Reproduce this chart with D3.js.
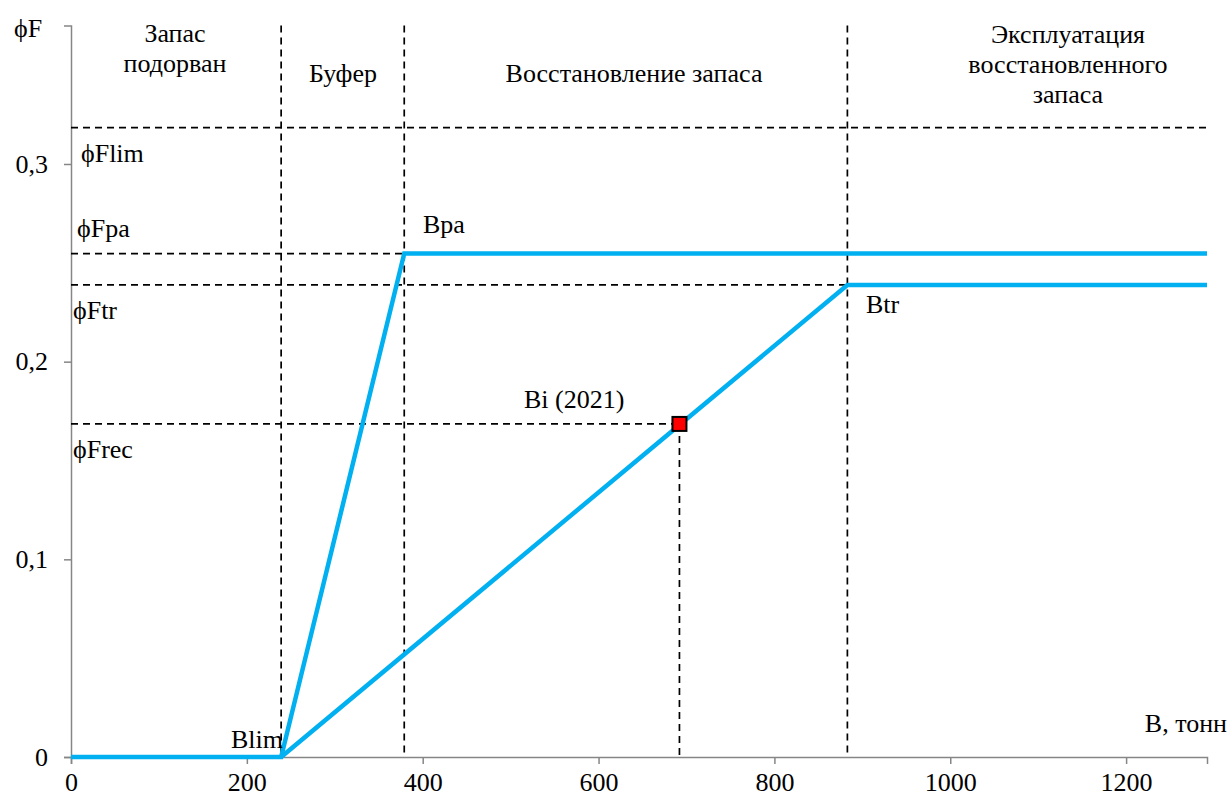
<!DOCTYPE html>
<html><head><meta charset="utf-8">
<script src="https://cdn.jsdelivr.net/npm/d3@7"></script>
<style>body{margin:0;background:#fff}svg{display:block}</style>
</head><body><svg id="c" width="1230" height="798"></svg>
<script>
// ---- data ----
const xTicks = [0, 200, 400, 600, 800, 1000, 1200];
const yTicks = [0, 0.1, 0.2, 0.3];
const xMax = 1292, yMax = 0.37;
// reference points
const Blim = 239, Bpa = 379, Btr = 883, Bi = 692;
const Flim = 0.3184, Fpa = 0.2547, Ftr = 0.2388, Frec = 0.1685;
// HCR lines
const paX = [0, 239, 379, 1292];
const paY = [0, 0, 0.2547, 0.2547];
const trX = [239, 883, 1292];
const trY = [0, 0.2388, 0.2388];
// point
const pointX = [692], pointY = [0.1685];
const zoneLabels = [
  {lines: ["Запас", "подорван"], x: 175, y0: 42},
  {lines: ["Буфер"], x: 343, y0: 82},
  {lines: ["Восстановление запаса"], x: 634, y0: 82},
  {lines: ["Эксплуатация", "восстановленного", "запаса"], x: 1068, y0: 43}
];

const FONT = '"Liberation Serif", "Times New Roman", serif';
const svg = d3.select("#c");
const x = d3.scaleLinear().domain([0, xMax]).range([71, 1207]);
const y = d3.scaleLinear().domain([0, yMax]).range([757, 757 - yMax * 1976.7]);
const fs = 26;

// axes
const axisCol = "#868686";
const gx = svg.append("g").attr("transform", `translate(0,${y(0)})`)
  .call(d3.axisBottom(x).tickValues(xTicks).tickSize(7).tickPadding(9).tickFormat(d3.format("d")));
const gy = svg.append("g").attr("transform", `translate(${x(0)},0)`)
  .call(d3.axisLeft(y).tickValues(yTicks).tickSize(7).tickPadding(16).tickFormat(d => d === 0 ? "0" : String(d).replace(".", ",")));
[gx, gy].forEach(g => {
  g.select(".domain").attr("stroke", axisCol).attr("stroke-width", 1.5);
  g.selectAll(".tick line").attr("stroke", axisCol).attr("stroke-width", 1.5);
  g.selectAll(".tick text").attr("font-size", fs).style("font-family", FONT).attr("fill", "#000");
});

// dashed reference lines
const dash = "7,5";
const dl = svg.append("g").attr("stroke", "#000").attr("stroke-width", 1.7).attr("stroke-dasharray", dash).attr("fill", "none");
[Blim, Bpa, Btr].forEach(v => dl.append("line").attr("x1", x(v)).attr("x2", x(v)).attr("y1", y(yMax)).attr("y2", y(0)));
dl.append("line").attr("x1", x(Bi)).attr("x2", x(Bi)).attr("y1", y(Frec)).attr("y2", y(0));
dl.append("line").attr("x1", x(0)).attr("x2", x(xMax)).attr("y1", y(Flim)).attr("y2", y(Flim));
dl.append("line").attr("x1", x(0)).attr("x2", x(Bpa)).attr("y1", y(Fpa)).attr("y2", y(Fpa));
dl.append("line").attr("x1", x(0)).attr("x2", x(Btr)).attr("y1", y(Ftr)).attr("y2", y(Ftr));
dl.append("line").attr("x1", x(0)).attr("x2", x(Bi)).attr("y1", y(Frec)).attr("y2", y(Frec));

// HCR lines
const line = d3.line().x(d => x(d[0])).y(d => y(d[1]));
const blue = "#00B0F0";
svg.append("path").datum(d3.zip(paX, paY)).attr("d", line).attr("fill", "none").attr("stroke", blue).attr("stroke-width", 4.5);
svg.append("path").datum(d3.zip(trX, trY)).attr("d", line).attr("fill", "none").attr("stroke", blue).attr("stroke-width", 4.5);

// point
svg.selectAll(".pt").data(d3.zip(pointX, pointY)).join("rect")
  .attr("x", d => x(d[0]) - 7).attr("y", d => y(d[1]) - 7).attr("width", 14).attr("height", 14)
  .attr("fill", "#FF0000").attr("stroke", "#000").attr("stroke-width", 2);

// text
function txt(s, px, py, anchor) {
  svg.append("text").attr("x", px).attr("y", py).attr("font-size", fs).style("font-family", FONT)
    .attr("fill", "#000").attr("text-anchor", anchor || "start").text(s);
}
txt("ϕF", 14, 37);
zoneLabels.forEach(z => {
  z.lines.forEach((l, i) => txt(l, z.x, z.y0 + i * 30, "middle"));
});
txt("ϕFlim", 81, 162);
txt("ϕFpa", 77, 237);
txt("ϕFtr", 73, 319);
txt("ϕFrec", 73, 458);
txt("Bpa", 423, 233);
txt("Bi (2021)", 524, 408);
txt("Btr", 866, 313);
txt("Blim", 231, 748);
txt("B, тонн", 1227, 732, "end");
</script></body></html>
